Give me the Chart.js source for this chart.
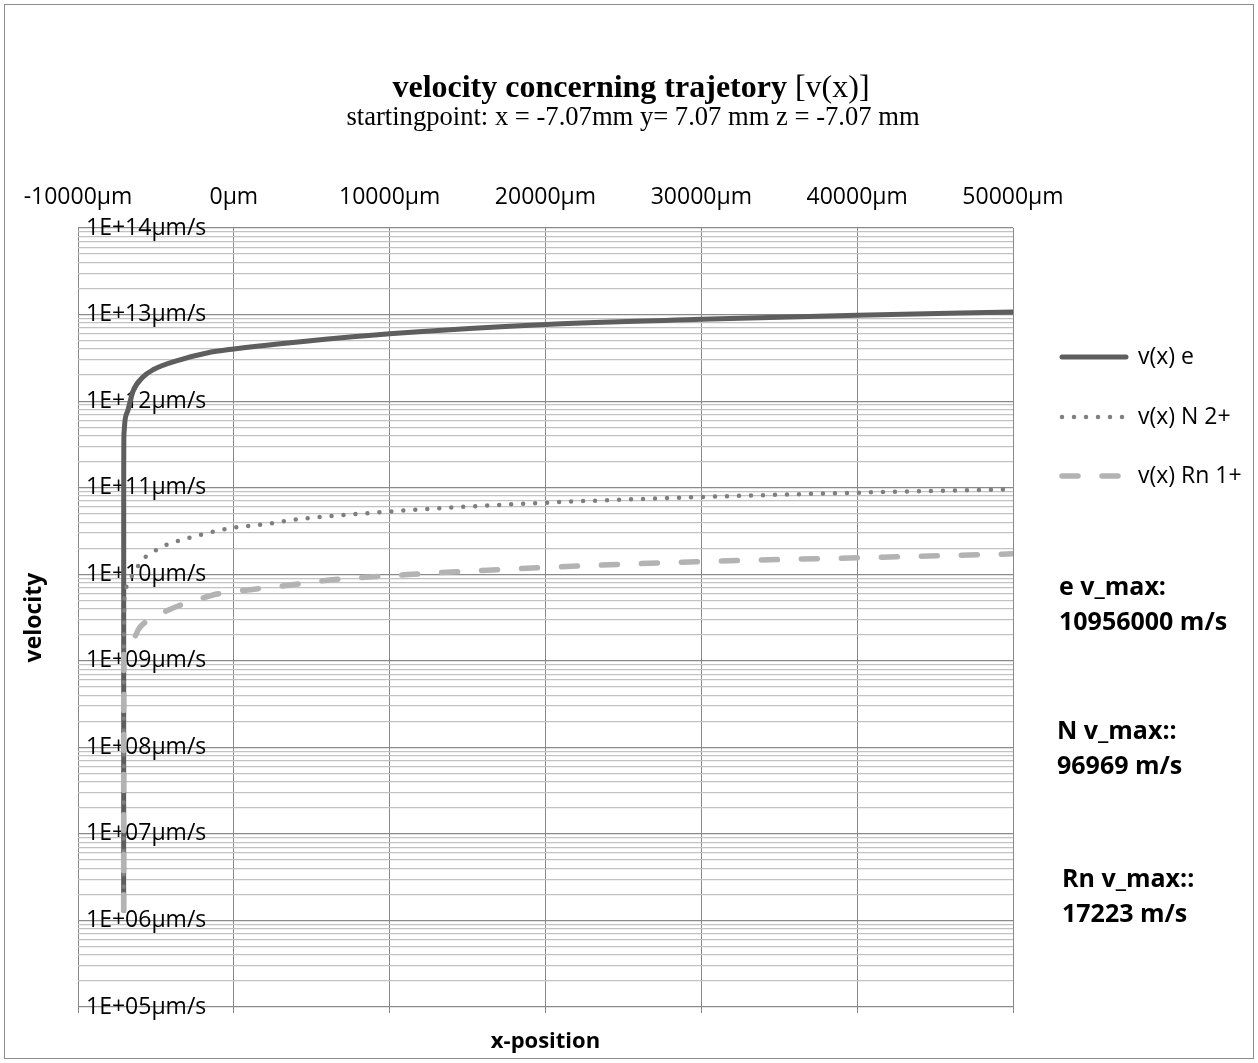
<!DOCTYPE html>
<html>
<head>
<meta charset="utf-8">
<script src="https://cdn.jsdelivr.net/npm/chart.js@4.4.0/dist/chart.umd.min.js"></script>
<style>
  html, body { margin: 0; padding: 0; background: #fff; }
  #wrap { width: 1258px; height: 1063px; }
</style>
</head>
<body>
<div id="wrap"><canvas id="velChart" width="1258" height="1063"></canvas></div>
<script>
// x-position [µm] and velocity [µm/s]
const eX = [-7070, -7066, -7047, -6983, -6791, -6470, -5828, -5186, -3453, -1720, 0, 2965, 10000, 20000, 30000, 40000, 50000];
const eV = [1.3e6, 1.5e11, 4.3e11, 6.0e11, 7.9e11, 1.3e12, 1.9e12, 2.3e12, 3.0e12, 3.6e12, 4.0e12, 4.6e12, 6.0e12, 7.7e12, 8.8e12, 9.8e12, 1.07e13];

const nX = [-7070, -7066, -6983, -5828, -5186, -4544, -3132, -1656, 0, 2131, 3607, 10000, 20000, 30000, 40000, 50000];
const nV = [1.3e6, 1.0e9, 6.6e9, 1.48e10, 1.8e10, 2.1e10, 2.55e10, 3.0e10, 3.45e10, 3.8e10, 4.2e10, 5.3e10, 6.7e10, 7.8e10, 8.75e10, 9.6e10];

const rnX = [-7070, -7064, -6535, -6021, -4544, -3581, -2169, -1078, 591, 3415, 5982, 11180, 20000, 30000, 40000, 50000];
const rnV = [1.3e6, 1.2e9, 1.74e9, 2.45e9, 3.6e9, 4.3e9, 5.2e9, 5.9e9, 6.5e9, 7.4e9, 8.5e9, 9.9e9, 1.2e10, 1.4e10, 1.55e10, 1.72e10];

const seriesNames = ['v(x) e', 'v(x) N 2+', 'v(x) Rn 1+'];

const xTicks = [-10000, 0, 10000, 20000, 30000, 40000, 50000];
const xTickLabels = ['-10000µm', '0µm', '10000µm', '20000µm', '30000µm', '40000µm', '50000µm'];

const yDecades = [1e5, 1e6, 1e7, 1e8, 1e9, 1e10, 1e11, 1e12, 1e13, 1e14];
const yTickLabels = ['1E+05µm/s', '1E+06µm/s', '1E+07µm/s', '1E+08µm/s', '1E+09µm/s',
                     '1E+10µm/s', '1E+11µm/s', '1E+12µm/s', '1E+13µm/s', '1E+14µm/s'];

const titleMain = 'velocity concerning trajetory';
const titleUnit = '[v(x)]';
const subTitle = 'startingpoint: x = -7.07mm y= 7.07 mm z = -7.07 mm';
const vmaxNotes = [
  ['e v_max:', '10956000 m/s'],
  ['N v_max::', '96969 m/s'],
  ['Rn v_max::', '17223 m/s']
];

// minor grid: 1..9 per decade
const yGrid = [];
yDecades.slice(0, -1).forEach(d => { for (let k = 1; k <= 9; k++) yGrid.push(k * d); });
yGrid.push(yDecades[yDecades.length - 1]);

const pts = (xs, vs) => xs.map((x, i) => ({ x: x, y: vs[i] }));

Chart.defaults.font.family = '"Open Sans", sans-serif';
Chart.defaults.color = '#000';

const decor = {
  id: 'decor',
  beforeDraw(chart) {
    const c = chart.ctx;
    c.save();
    c.fillStyle = '#fff';
    c.fillRect(0, 0, chart.width, chart.height);
    c.strokeStyle = '#8c8c8c';
    c.lineWidth = 1;
    c.strokeRect(4.5, 4.5, chart.width - 9, chart.height - 9);
    c.restore();
  },
  afterDraw(chart) {
    const c = chart.ctx;
    c.save();
    c.fillStyle = '#000';
    c.textBaseline = 'alphabetic';
    c.textAlign = 'left';

    // title: bold part + regular unit
    c.font = 'bold 32px "Liberation Serif"';
    const w1 = c.measureText(titleMain + ' ').width;
    c.font = '32px "Liberation Serif"';
    const w2 = c.measureText(titleUnit).width;
    const tx = 631 - (w1 + w2) / 2;
    c.font = 'bold 32px "Liberation Serif"';
    c.fillText(titleMain + ' ', tx, 97);
    c.font = '32px "Liberation Serif"';
    c.fillText(titleUnit, tx + w1, 97);

    c.font = '26.6px "Liberation Serif"';
    c.textAlign = 'center';
    c.fillText(subTitle, 633, 125);

    // legend
    const rows = [357, 417, 476];
    chart.data.datasets.forEach((ds, i) => {
      const y = rows[i];
      c.strokeStyle = ds.borderColor;
      c.lineWidth = ds.borderWidth;
      c.lineCap = ds.borderCapStyle;
      c.setLineDash(ds.borderDash || []);
      c.beginPath();
      c.moveTo(1062, y);
      c.lineTo(1126, y);
      c.stroke();
      c.setLineDash([]);
      c.font = '23px "Open Sans"';
      c.textAlign = 'left';
      c.textBaseline = 'middle';
      c.fillText(ds.label, 1138, y);
    });

    // v_max notes
    c.font = 'bold 25px "Open Sans"';
    const noteX = [1059, 1057, 1062];
    const noteY = [588, 732, 880];
    vmaxNotes.forEach((n, i) => {
      c.fillText(n[0], noteX[i], noteY[i]);
      c.fillText(n[1], noteX[i], noteY[i] + 35);
    });
    c.restore();
  }
};

new Chart(document.getElementById('velChart'), {
  type: 'line',
  data: {
    datasets: [
      {
        label: seriesNames[0],
        data: pts(eX, eV),
        borderColor: '#5e5e5e',
        borderWidth: 5,
        borderCapStyle: 'round',
        order: 3
      },
      {
        label: seriesNames[1],
        data: pts(nX, nV),
        borderColor: '#7f7f7f',
        borderWidth: 4.5,
        borderCapStyle: 'round',
        borderDash: [0, 12],
        order: 2
      },
      {
        label: seriesNames[2],
        data: pts(rnX, rnV),
        borderColor: '#b3b3b3',
        borderWidth: 5.5,
        borderCapStyle: 'round',
        borderDash: [16, 24],
        order: 1
      }
    ]
  },
  options: {
    responsive: false,
    animation: false,
    events: [],
    layout: { padding: { left: 0, top: 0, right: 245, bottom: 0 } },
    elements: {
      point: { radius: 0 },
      line: { cubicInterpolationMode: 'monotone', borderJoinStyle: 'round' }
    },
    plugins: {
      legend: { display: false },
      tooltip: { enabled: false }
    },
    scales: {
      x: {
        type: 'linear',
        position: 'top',
        min: -10000,
        max: 50000,
        afterBuildTicks: axis => { axis.ticks = xTicks.map(v => ({ value: v })); },
        afterFit: axis => { axis.height = 228; },
        ticks: {
          autoSkip: false,
          maxRotation: 0,
          padding: 17,
          font: { size: 23 },
          callback: v => xTickLabels[xTicks.indexOf(v)]
        },
        grid: { color: '#898989', lineWidth: 1, drawTicks: false },
        border: { display: false }
      },
      x2: {
        type: 'linear',
        position: 'bottom',
        min: -10000,
        max: 50000,
        afterBuildTicks: axis => { axis.ticks = xTicks.map(v => ({ value: v })); },
        afterFit: axis => { axis.height = 56; },
        ticks: { display: false },
        grid: { color: '#898989', drawOnChartArea: false, drawTicks: true, tickLength: 6 },
        border: { display: false },
        title: {
          display: true,
          text: 'x-position',
          font: { size: 22, weight: 'bold' },
          padding: { top: 0, bottom: 8 }
        }
      },
      y: {
        type: 'logarithmic',
        position: 'left',
        min: 1e5,
        max: 1e14,
        afterBuildTicks: axis => {
          axis.ticks = yGrid.map(v => ({ value: v, major: yDecades.includes(v) }));
        },
        afterFit: axis => { axis.width = 78; },
        ticks: {
          mirror: true,
          autoSkip: false,
          padding: 8,
          font: { size: 23 },
          callback: v => {
            const i = yDecades.indexOf(v);
            return i >= 0 ? yTickLabels[i] : '';
          }
        },
        grid: {
          drawTicks: false,
          lineWidth: 1.2,
          color: ctx => (ctx.tick && yDecades.includes(ctx.tick.value)) ? '#8a8a8a' : '#c2c2c2'
        },
        border: { display: false },
        title: {
          display: true,
          text: 'velocity',
          font: { size: 23, weight: 'bold' },
          padding: { top: 21, bottom: 0 }
        }
      }
    }
  },
  plugins: [decor]
});
</script>
</body>
</html>
